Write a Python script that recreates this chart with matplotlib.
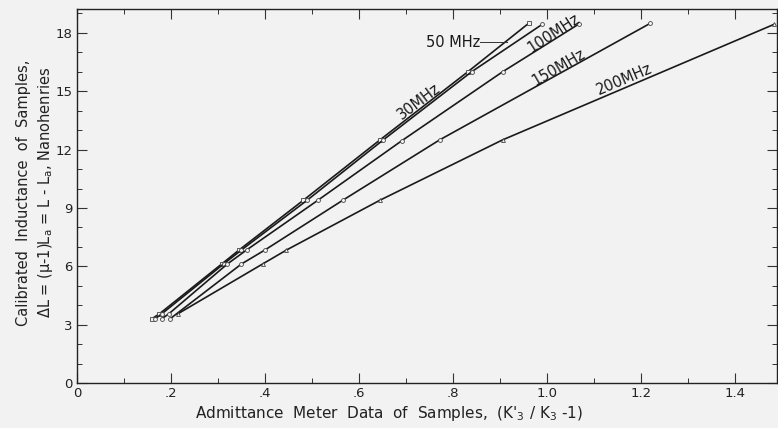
import matplotlib.pyplot as plt
from matplotlib.ticker import FixedLocator, FixedFormatter, MultipleLocator

plt.rcParams['font.family'] = ['Liberation Sans Narrow', 'DejaVu Sans']
plt.rcParams['mathtext.default'] = 'regular'

# admittance meter data (x) vs calibrated inductance (y)
x_50 = [0.159, 0.175, 0.308, 0.345, 0.482, 0.645, 0.832, 0.962]
y_50 = [3.3, 3.55, 6.12, 6.84, 9.4, 12.5, 16.0, 18.5]
x_30 = [0.166, 0.180, 0.312, 0.350, 0.490, 0.652, 0.840, 0.991]
y_30 = [3.3, 3.55, 6.12, 6.84, 9.4, 12.5, 16.0, 18.45]
x_100 = [0.180, 0.195, 0.320, 0.361, 0.513, 0.691, 0.906, 1.068]
y_100 = [3.3, 3.55, 6.12, 6.84, 9.4, 12.45, 16.0, 18.45]
x_150 = [0.198, 0.350, 0.400, 0.566, 0.772, 1.221]
y_150 = [3.3, 6.12, 6.84, 9.4, 12.5, 18.5]
x_200 = [0.214, 0.395, 0.446, 0.645, 0.906, 1.485]
y_200 = [3.55, 6.12, 6.84, 9.4, 12.5, 18.45]

xticks = [0, 0.2, 0.4, 0.6, 0.8, 1.0, 1.2, 1.4]
xticklabels = ['0', '.2', '.4', '.6', '.8', '1.0', '1.2', '1.4']
yticks = [0, 3, 6, 9, 12, 15, 18]

bg = '#f2f2f2'
fig = plt.figure(figsize=(7.78, 4.28), dpi=100, facecolor=bg)
ax = fig.add_axes([0.099, 0.105, 0.8995, 0.874])
ax.set_facecolor(bg)

series = [(x_50, y_50, 's'), (x_30, y_30, 'o'), (x_100, y_100, 'o'),
          (x_150, y_150, 'o'), (x_200, y_200, '^')]
for xs, ys, m in series:
    ax.plot(xs, ys, color='#1a1a1a', lw=1.2, marker=m, ms=2.8,
            mfc=bg, mec='#444444', mew=0.6)

ax.set_xlim(0, 1.49)
ax.set_ylim(0, 19.23)

ax.xaxis.set_major_locator(FixedLocator(xticks))
ax.xaxis.set_major_formatter(FixedFormatter(xticklabels))
ax.xaxis.set_minor_locator(MultipleLocator(0.1))
ax.yaxis.set_major_locator(FixedLocator(yticks))
ax.yaxis.set_minor_locator(MultipleLocator(1))
ax.tick_params(which='both', direction='in', top=True, right=True,
               labelsize=9.5, color='#333333', labelcolor='#222222')
ax.tick_params(which='major', length=7, width=0.8, pad=3)
ax.tick_params(which='minor', length=3.5, width=0.7)
for s in ax.spines.values():
    s.set_linewidth(1.0)
    s.set_color('#222222')

fig.text(0.5, 0.035,
         "Admittance  Meter  Data  of  Samples,  (K$'_3$ / K$_3$ -1)",
         fontsize=11, ha='center', va='center', color='#222222')
fig.text(0.046, 0.55,
         "Calibrated  Inductance  of  Samples,\n"
         "$\\Delta$L = ($\\mu$-1)L$_a$ = L - L$_a$, Nanohenries",
         fontsize=10.5, ha='center', va='center', rotation=90,
         linespacing=1.35, color='#222222')

lab = dict(fontsize=10.5, color='#1a1a1a', ha='center', va='center')
ax.text(0.728, 14.45, '30MHz', rotation=37, **lab)
ax.text(0.800, 17.5, '50 MHz', **lab)
ax.plot([0.857, 0.915], [17.55, 17.55], color='#333333', lw=0.7)
ax.text(1.015, 18.0, '100MHz', rotation=33, **lab)
ax.text(1.026, 16.25, '150MHz', rotation=30, **lab)
ax.text(1.166, 15.6, '200MHz', rotation=23, **lab)

fig.savefig('out.png', dpi=100, facecolor=bg)
